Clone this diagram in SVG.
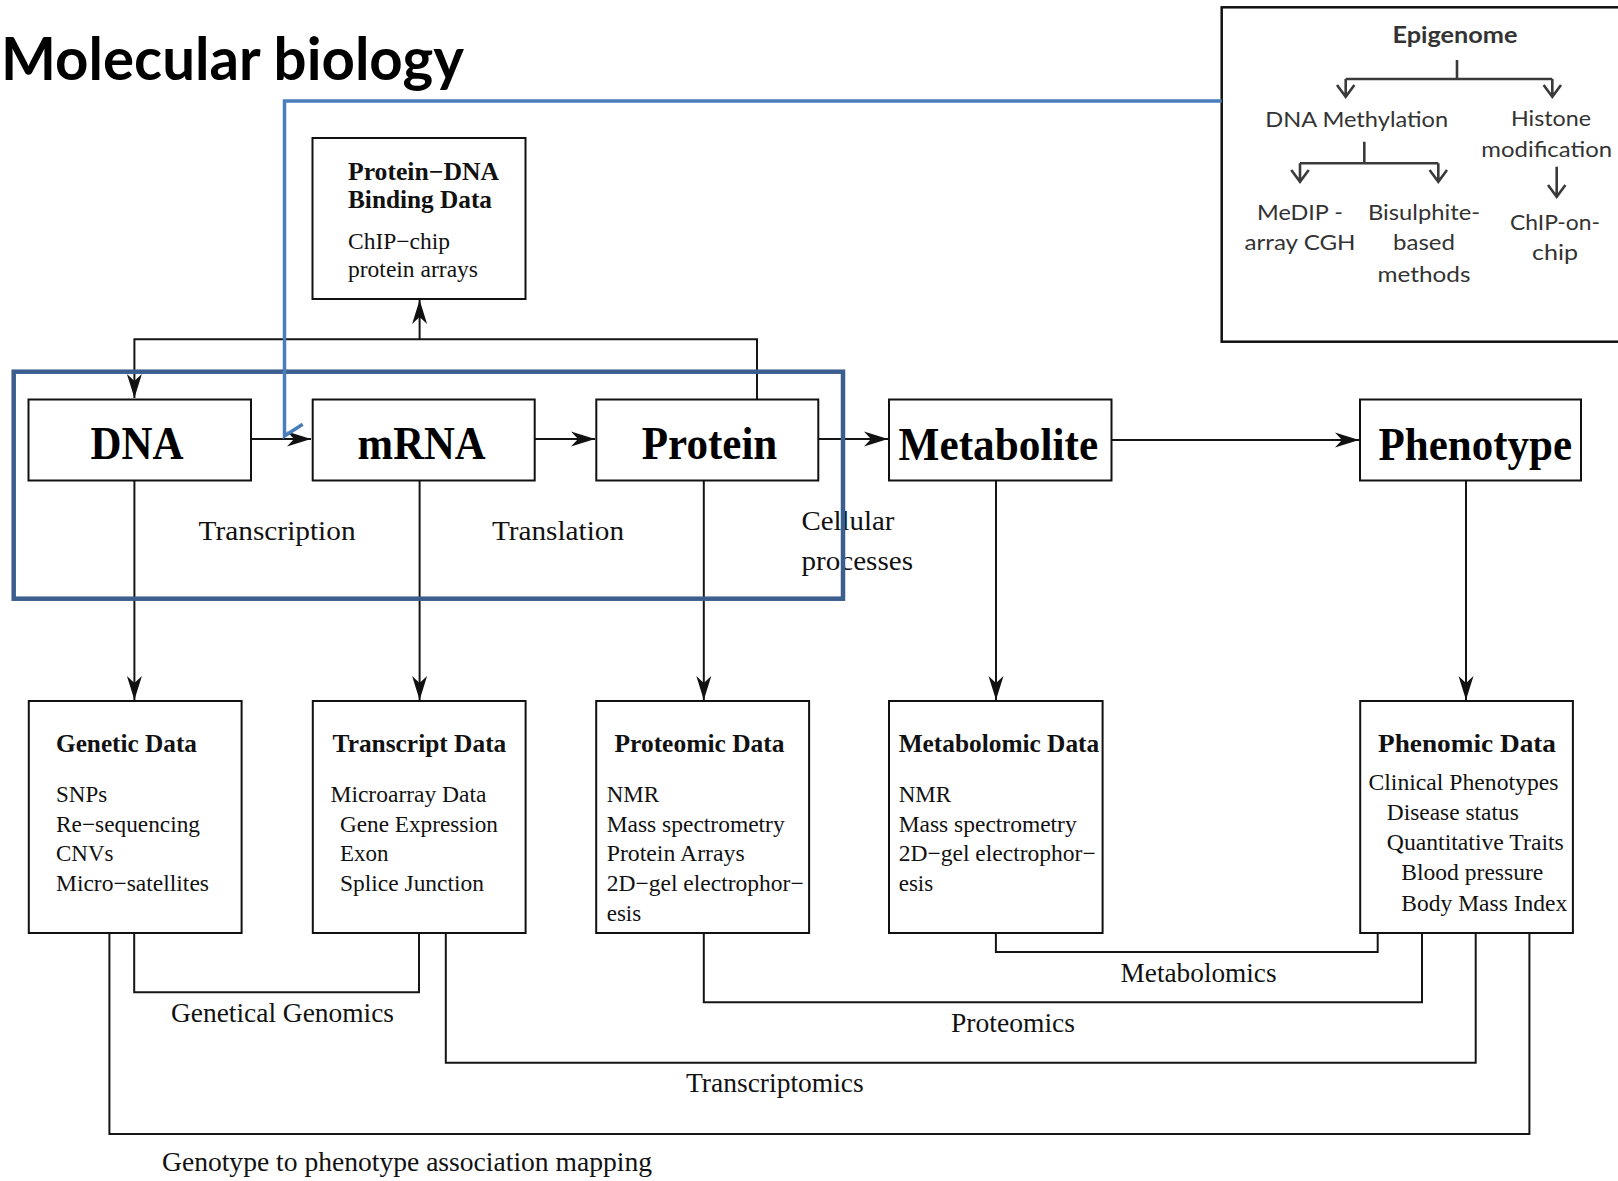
<svg xmlns="http://www.w3.org/2000/svg" width="1618" height="1181" viewBox="0 0 1618 1181">
<style>
.box{fill:#fff;stroke:#111;stroke-width:2}
.big{font-family:"Liberation Serif","Times New Roman",serif;font-weight:bold;font-size:46px;fill:#000}
.ttl{font-family:"Liberation Serif","Times New Roman",serif;font-weight:bold;font-size:25px;fill:#111}
.txt{font-family:"Liberation Serif","Times New Roman",serif;font-size:23px;fill:#111}
.lbl{font-family:"Liberation Serif","Times New Roman",serif;font-size:27px;fill:#111}
.con{fill:none;stroke:#151515;stroke-width:2}
.epi{font-family:Lato,"Open Sans",sans-serif;font-size:22px;fill:#333;text-anchor:middle}
.epl{fill:none;stroke:#3a3a3a;stroke-width:2.6}
</style>
<defs>
<marker id="ah" markerUnits="userSpaceOnUse" markerWidth="28" markerHeight="18" viewBox="0 0 28 18" refX="26" refY="9" orient="auto">
<path d="M2,1.5 L26,9 L2,16.5 L9,9 Z" fill="#111"/>
</marker>
</defs>

<text x="1" y="80" font-family="Lato,'Open Sans',sans-serif" font-weight="bold" font-size="60" textLength="463" lengthAdjust="spacingAndGlyphs" fill="#000">Molecular biology</text>

<g id="epigenome">
<rect x="1221.7" y="7.3" width="420" height="334.4" fill="#fff" stroke="#111" stroke-width="2.5"/>
<text class="epi" x="1455" y="43" font-weight="bold" font-size="21" textLength="125" lengthAdjust="spacingAndGlyphs">Epigenome</text>
<path class="epl" d="M1457,60 V79 M1345.7,79 H1552.3 M1345.7,79 V96 M1552.3,79 V96 M1337,85 L1345.7,96.7 L1354.4,85 M1543.6,85 L1552.3,96.7 L1561,85"/>
<text class="epi" x="1356.7" y="126.7" textLength="183" lengthAdjust="spacingAndGlyphs">DNA Methylation</text>
<text class="epi" x="1551" y="126" textLength="80" lengthAdjust="spacingAndGlyphs">Histone</text>
<text class="epi" x="1546.7" y="156.7" textLength="130.7" lengthAdjust="spacingAndGlyphs">modification</text>
<path class="epl" d="M1364.3,141.7 V163.3 M1300,163.3 H1438.3 M1300,163.3 V181 M1438.3,163.3 V181 M1291.3,170 L1300,181.7 L1308.7,170 M1429.6,170 L1438.3,181.7 L1447,170 M1556.7,166.7 V196 M1548,185 L1556.7,196.7 L1565.4,185"/>
<text class="epi" x="1300" y="220" textLength="86" lengthAdjust="spacingAndGlyphs">MeDIP -</text>
<text class="epi" x="1300" y="250" textLength="111" lengthAdjust="spacingAndGlyphs">array CGH</text>
<text class="epi" x="1424" y="220" textLength="112" lengthAdjust="spacingAndGlyphs">Bisulphite-</text>
<text class="epi" x="1424" y="250" textLength="62" lengthAdjust="spacingAndGlyphs">based</text>
<text class="epi" x="1424" y="281.7" textLength="93" lengthAdjust="spacingAndGlyphs">methods</text>
<text class="epi" x="1555" y="230" textLength="90" lengthAdjust="spacingAndGlyphs">ChIP-on-</text>
<text class="epi" x="1555" y="260" textLength="46" lengthAdjust="spacingAndGlyphs">chip</text>
</g>

<g id="protein-dna">
<rect class="box" x="312.5" y="138" width="213" height="161"/>
<text class="ttl" x="348" y="180" textLength="151" lengthAdjust="spacingAndGlyphs">Protein−DNA</text>
<text class="ttl" x="348" y="208" textLength="144" lengthAdjust="spacingAndGlyphs">Binding Data</text>
<text class="txt" x="348" y="249" textLength="102" lengthAdjust="spacingAndGlyphs">ChIP−chip</text>
<text class="txt" x="348" y="277" textLength="130" lengthAdjust="spacingAndGlyphs">protein arrays</text>
</g>

<g id="connectors">
<path class="con" d="M251,439 H311" marker-end="url(#ah)"/>
<path class="con" d="M535,439 H595" marker-end="url(#ah)"/>
<path class="con" d="M818.5,439 H888" marker-end="url(#ah)"/>
<path class="con" d="M1111.5,440 H1359" marker-end="url(#ah)"/>
<path class="con" d="M757,399.5 V339.3 H134.4 V398" marker-end="url(#ah)"/>
<path class="con" d="M419.6,339.3 V300" marker-end="url(#ah)"/>
<path class="con" d="M134.4,480.7 V700" marker-end="url(#ah)"/>
<path class="con" d="M419.6,480.7 V700" marker-end="url(#ah)"/>
<path class="con" d="M703.8,480.7 V700" marker-end="url(#ah)"/>
<path class="con" d="M996,480.7 V700" marker-end="url(#ah)"/>
<path class="con" d="M1466,480.7 V700" marker-end="url(#ah)"/>
<path class="con" d="M134.2,933 V992.3 H419 V933"/>
<path class="con" d="M995.9,933 V952 H1377.7 V933"/>
<path class="con" d="M703.8,933 V1002.3 H1422 V933"/>
<path class="con" d="M445.8,933 V1062.7 H1475.7 V933"/>
<path class="con" d="M109.4,933 V1134 H1529.4 V933"/>
</g>

<g id="dna">
<rect class="box" x="28.5" y="399.5" width="222.5" height="81"/>
<text class="big" x="90.5" y="459" textLength="93" lengthAdjust="spacingAndGlyphs">DNA</text>
</g>
<g id="mrna">
<rect class="box" x="312.7" y="399.5" width="222" height="81"/>
<text class="big" x="357.6" y="459" textLength="128" lengthAdjust="spacingAndGlyphs">mRNA</text>
</g>
<g id="protein">
<rect class="box" x="596.3" y="399.5" width="222" height="81"/>
<text class="big" x="641.8" y="459" textLength="135.5" lengthAdjust="spacingAndGlyphs">Protein</text>
</g>
<g id="metabolite">
<rect class="box" x="889" y="399.5" width="222.5" height="81"/>
<text class="big" x="898.6" y="460" textLength="199.5" lengthAdjust="spacingAndGlyphs">Metabolite</text>
</g>
<g id="phenotype">
<rect class="box" x="1360" y="399.5" width="221" height="81"/>
<text class="big" x="1378.5" y="460" textLength="193.5" lengthAdjust="spacingAndGlyphs">Phenotype</text>
</g>

<g id="process-labels">
<text class="lbl" x="198.6" y="540" textLength="157" lengthAdjust="spacingAndGlyphs">Transcription</text>
<text class="lbl" x="492" y="540" textLength="132" lengthAdjust="spacingAndGlyphs">Translation</text>
<text class="lbl" x="801.5" y="530" textLength="93" lengthAdjust="spacingAndGlyphs">Cellular</text>
<text class="lbl" x="801.5" y="569.5" textLength="111.5" lengthAdjust="spacingAndGlyphs">processes</text>
</g>

<g id="genetic-data">
<rect class="box" x="28.8" y="701" width="212.8" height="232"/>
<text class="ttl" x="56" y="751.7" textLength="141" lengthAdjust="spacingAndGlyphs">Genetic Data</text>
<text class="txt" x="56" y="801.7">SNPs</text>
<text class="txt" x="56" y="831.5" textLength="144" lengthAdjust="spacingAndGlyphs">Re−sequencing</text>
<text class="txt" x="56" y="861.3">CNVs</text>
<text class="txt" x="56" y="891" textLength="153" lengthAdjust="spacingAndGlyphs">Micro−satellites</text>
</g>
<g id="transcript-data">
<rect class="box" x="312.8" y="701" width="212.8" height="232"/>
<text class="ttl" x="332.6" y="751.7" textLength="173.7" lengthAdjust="spacingAndGlyphs">Transcript Data</text>
<text class="txt" x="330.5" y="801.7" textLength="156" lengthAdjust="spacingAndGlyphs">Microarray Data</text>
<text class="txt" x="340" y="831.5" textLength="158" lengthAdjust="spacingAndGlyphs">Gene Expression</text>
<text class="txt" x="340" y="861.3">Exon</text>
<text class="txt" x="340" y="891" textLength="144" lengthAdjust="spacingAndGlyphs">Splice Junction</text>
</g>
<g id="proteomic-data">
<rect class="box" x="596.2" y="701" width="212.9" height="232"/>
<text class="ttl" x="614.5" y="751.7" textLength="170" lengthAdjust="spacingAndGlyphs">Proteomic Data</text>
<text class="txt" x="606.7" y="801.7">NMR</text>
<text class="txt" x="606.7" y="831.5" textLength="178" lengthAdjust="spacingAndGlyphs">Mass spectrometry</text>
<text class="txt" x="606.7" y="861.3" textLength="138" lengthAdjust="spacingAndGlyphs">Protein Arrays</text>
<text class="txt" x="606.7" y="891" textLength="197" lengthAdjust="spacingAndGlyphs">2D−gel electrophor−</text>
<text class="txt" x="606.7" y="920.5">esis</text>
</g>
<g id="metabolomic-data">
<rect class="box" x="889" y="701" width="213.6" height="232"/>
<text class="ttl" x="898.7" y="751.7" textLength="200.5" lengthAdjust="spacingAndGlyphs">Metabolomic Data</text>
<text class="txt" x="898.7" y="801.7">NMR</text>
<text class="txt" x="898.7" y="831.5" textLength="178" lengthAdjust="spacingAndGlyphs">Mass spectrometry</text>
<text class="txt" x="898.7" y="861.3" textLength="197" lengthAdjust="spacingAndGlyphs">2D−gel electrophor−</text>
<text class="txt" x="898.7" y="891">esis</text>
</g>
<g id="phenomic-data">
<rect class="box" x="1360.2" y="701" width="212.7" height="232"/>
<text class="ttl" x="1378" y="751.7" textLength="178" lengthAdjust="spacingAndGlyphs">Phenomic Data</text>
<text class="txt" x="1368.5" y="790" textLength="190" lengthAdjust="spacingAndGlyphs">Clinical Phenotypes</text>
<text class="txt" x="1386.8" y="820" textLength="132" lengthAdjust="spacingAndGlyphs">Disease status</text>
<text class="txt" x="1386.8" y="850" textLength="177" lengthAdjust="spacingAndGlyphs">Quantitative Traits</text>
<text class="txt" x="1401.3" y="880" textLength="142" lengthAdjust="spacingAndGlyphs">Blood pressure</text>
<text class="txt" x="1401.3" y="910.5" textLength="166" lengthAdjust="spacingAndGlyphs">Body Mass Index</text>
</g>

<g id="analysis-labels">
<text class="lbl" x="1120.6" y="981.7" textLength="156" lengthAdjust="spacingAndGlyphs">Metabolomics</text>
<text class="lbl" x="171" y="1021.7" textLength="223" lengthAdjust="spacingAndGlyphs">Genetical Genomics</text>
<text class="lbl" x="951" y="1031.7" textLength="124" lengthAdjust="spacingAndGlyphs">Proteomics</text>
<text class="lbl" x="686" y="1091.7" textLength="177.7" lengthAdjust="spacingAndGlyphs">Transcriptomics</text>
<text class="lbl" x="162" y="1171" textLength="490" lengthAdjust="spacingAndGlyphs">Genotype to phenotype association mapping</text>
</g>

<g id="highlight">
<rect x="13.7" y="371.7" width="829.3" height="227" fill="none" stroke="#3b5e8e" stroke-width="4.5"/>
<path d="M1221.7,101 H284.5 V436 L302.7,424.3" fill="none" stroke="#4a7ebb" stroke-width="3.5"/>
</g>
</svg>
